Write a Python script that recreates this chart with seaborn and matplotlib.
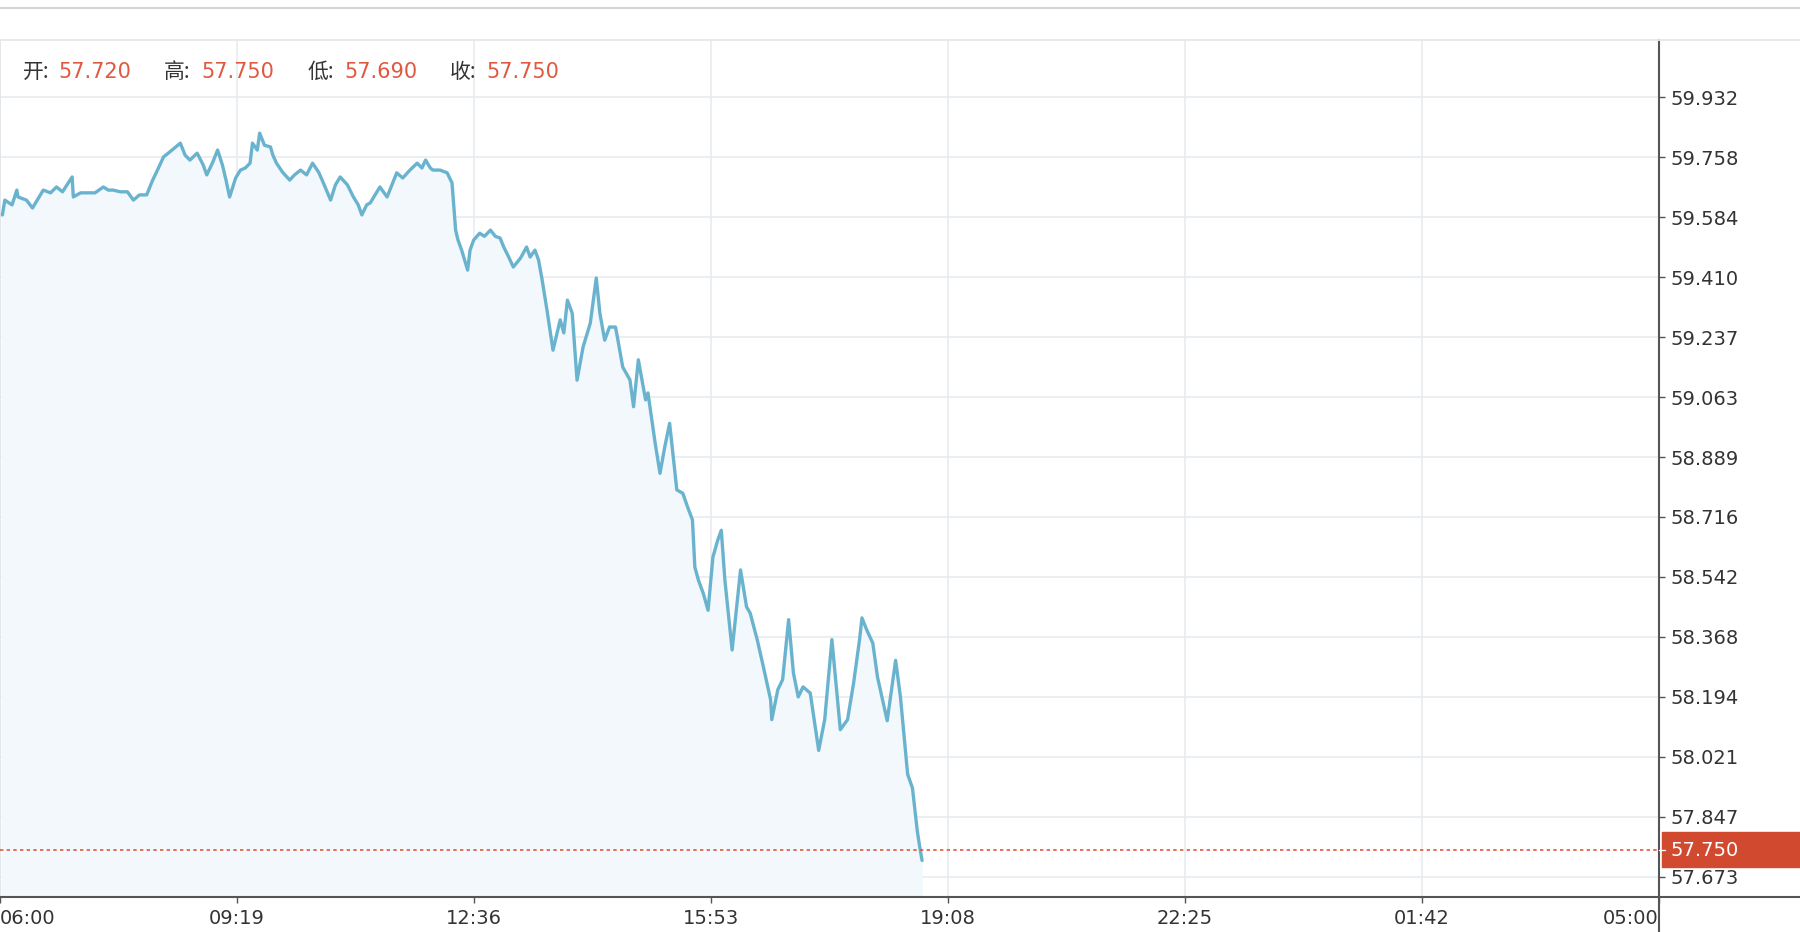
import pandas as pd
import matplotlib
matplotlib.use("Agg")
import matplotlib.pyplot as plt
import seaborn as sns
from matplotlib.patches import Rectangle
from matplotlib.lines import Line2D

# minutes after 06:00 and price
minutes = [2, 4, 10, 14, 15, 22, 27, 31, 36, 42, 47, 52, 60, 61, 67, 73, 79, 86, 90, 94,
           100, 106, 111, 116, 122, 127, 131, 136, 141, 150, 154, 158, 164, 169, 172, 177,
           181, 185, 188, 191, 196, 200, 204, 208, 210, 214, 216, 220, 225, 227, 230, 235,
           241, 245, 250, 255, 260, 265, 268, 275, 279, 283, 289, 294, 298, 301, 305, 308,
           312, 316, 322, 326, 330, 335, 341, 347, 351, 354, 358, 360, 366, 372, 374, 376,
           379, 381, 384, 389, 391, 394, 399, 403, 408, 412, 416, 419, 423, 427, 433, 438,
           441, 445, 448, 451, 455, 460, 466, 469, 472, 476, 480, 485, 491, 496, 499, 503,
           507, 512, 514, 518, 524, 527, 531, 537, 539, 545, 549, 553, 557, 560, 563, 568,
           572, 576, 578, 581, 585, 589, 593, 597, 600, 603, 609, 616, 621, 624, 630, 635,
           641, 642, 647, 651, 656, 660, 664, 668, 674, 681, 686, 692, 699, 705, 710, 715,
           717, 721, 726, 730, 738, 745, 749, 755, 759, 763, 765, 767]
price = [59.591, 59.634, 59.620, 59.663, 59.643, 59.634, 59.611, 59.634, 59.663, 59.655,
         59.672, 59.658, 59.701, 59.643, 59.655, 59.655, 59.655, 59.672, 59.663, 59.663,
         59.658, 59.658, 59.634, 59.649, 59.649, 59.692, 59.721, 59.759, 59.773, 59.799,
         59.764, 59.750, 59.770, 59.736, 59.707, 59.744, 59.779, 59.736, 59.692, 59.643,
         59.698, 59.721, 59.727, 59.741, 59.799, 59.779, 59.828, 59.793, 59.788, 59.764,
         59.741, 59.715, 59.692, 59.707, 59.721, 59.707, 59.741, 59.715, 59.692, 59.634,
         59.678, 59.701, 59.678, 59.643, 59.620, 59.591, 59.620, 59.626, 59.649, 59.672,
         59.643, 59.678, 59.713, 59.698, 59.721, 59.741, 59.727, 59.750, 59.727, 59.721,
         59.721, 59.713, 59.698, 59.684, 59.547, 59.518, 59.489, 59.431, 59.489, 59.518,
         59.538, 59.529, 59.547, 59.529, 59.524, 59.498, 59.470, 59.440, 59.466, 59.498,
         59.469, 59.489, 59.460, 59.402, 59.315, 59.199, 59.287, 59.249, 59.344, 59.306,
         59.112, 59.208, 59.277, 59.408, 59.306, 59.228, 59.266, 59.266, 59.228, 59.150,
         59.113, 59.035, 59.171, 59.055, 59.075, 58.929, 58.842, 58.919, 58.987, 58.889,
         58.794, 58.784, 58.744, 58.707, 58.570, 58.532, 58.494, 58.445, 58.599, 58.648,
         58.677, 58.532, 58.330, 58.562, 58.455, 58.437, 58.358, 58.281, 58.186, 58.128,
         58.215, 58.244, 58.418, 58.263, 58.194, 58.223, 58.205, 58.039, 58.128, 58.360,
         58.099, 58.128, 58.233, 58.360, 58.423, 58.388, 58.350, 58.250, 58.125, 58.300,
         58.194, 57.970, 57.930, 57.806, 57.760, 57.720]

y_ticks = [59.932, 59.758, 59.584, 59.410, 59.237, 59.063, 58.889, 58.716,
           58.542, 58.368, 58.194, 58.021, 57.847, 57.673]
x_labels = ["06:00", "09:19", "12:36", "15:53", "19:08", "22:25", "01:42", "05:00"]
ohlc_names = ["开:", "高:", "低:", "收:"]
ohlc_values = ["57.720", "57.750", "57.690", "57.750"]
last_price = 57.750

df = pd.DataFrame({"minute": minutes, "price": price})

sns.set_theme(style="white")
plt.rcParams["font.family"] = ["DejaVu Sans"]

W, H = 1800, 932
fig = plt.figure(figsize=(18, 9.32), dpi=100)
ax_left, ax_right = 0.0, 1659 / W
ax_bottom, ax_top = 1 - 897 / H, 1 - 40 / H
ax = fig.add_axes([ax_left, ax_bottom, ax_right - ax_left, ax_top - ax_bottom])

line_color = "#6ab3cf"
red = "#e0583f"

ax.fill_between(df["minute"], df["price"], 57.0, color="#f2f8fc", zorder=1)
sns.lineplot(data=df, x="minute", y="price", ax=ax, color=line_color, linewidth=2.4, zorder=3)
ax.axhline(last_price, color=red, ls=(0, (2, 2)), lw=1.2, zorder=4)

ax.set_xlim(0, 1380)
ax.set_ylim(57.614, 60.098)
ax.set_xlabel("")
ax.set_ylabel("")

ax.set_yticks(y_ticks)
ax.set_yticklabels([f"{v:.3f}" for v in y_ticks])
ax.yaxis.tick_right()
x_pos = [i * 1380 / 7 for i in range(8)]
ax.set_xticks(x_pos)
ax.set_xticklabels(x_labels)
tl = ax.get_xticklabels()
tl[0].set_ha("left")
tl[-1].set_ha("right")

ax.grid(True, color="#e8ecef", lw=1.2)
ax.set_axisbelow(True)
ax.tick_params(axis="y", direction="out", length=4, width=1, color="#555555",
               labelsize=14, labelcolor="#333333", pad=4, right=True, left=False)
ax.tick_params(axis="x", direction="out", length=4, width=1, color="#555555",
               labelsize=14, labelcolor="#333333", pad=5, bottom=True)

for s in ["left", "top"]:
    ax.spines[s].set_color("#e3e6e8")
    ax.spines[s].set_linewidth(1.2)
for s in ["right", "bottom"]:
    ax.spines[s].set_color("#555555")
    ax.spines[s].set_linewidth(1.5)

# axis lines running on to the figure edges
fig.add_artist(Line2D([ax_right, ax_right], [0, ax_bottom], color="#555555", lw=1.5))
fig.add_artist(Line2D([ax_right, 1], [ax_bottom, ax_bottom], color="#555555", lw=1.5))
fig.add_artist(Line2D([ax_right, 1], [ax_top, ax_top], color="#e3e6e8", lw=1.2))
fig.add_artist(Line2D([0, 1], [1 - 8 / H, 1 - 8 / H], color="#d4d4d4", lw=1.5))

# OHLC header
name_x = [23, 164, 308, 450]
val_x = [58, 201, 344, 486]
for n, v, nx, vx in zip(ohlc_names, ohlc_values, name_x, val_x):
    fig.text(nx / W, 1 - 72 / H, n, fontsize=15, color="#333333", va="center",
             family=["Noto Sans CJK SC", "DejaVu Sans"])
    fig.text(vx / W, 1 - 72 / H, v, fontsize=15, color=red, va="center")

# last price tag
fig.add_artist(Rectangle((1662 / W, 1 - 867 / H), 1 - 1662 / W, 35 / H,
                         transform=fig.transFigure, color="#d14a30", zorder=5))
fig.add_artist(Line2D([1659 / W, 1665 / W], [1 - 850 / H, 1 - 850 / H], color="white", lw=1, zorder=6))
fig.text(1670 / W, 1 - 850 / H, f"{last_price:.3f}", fontsize=14, color="white",
         va="center", zorder=6)

fig.savefig("out.png", dpi=100, facecolor="white")
